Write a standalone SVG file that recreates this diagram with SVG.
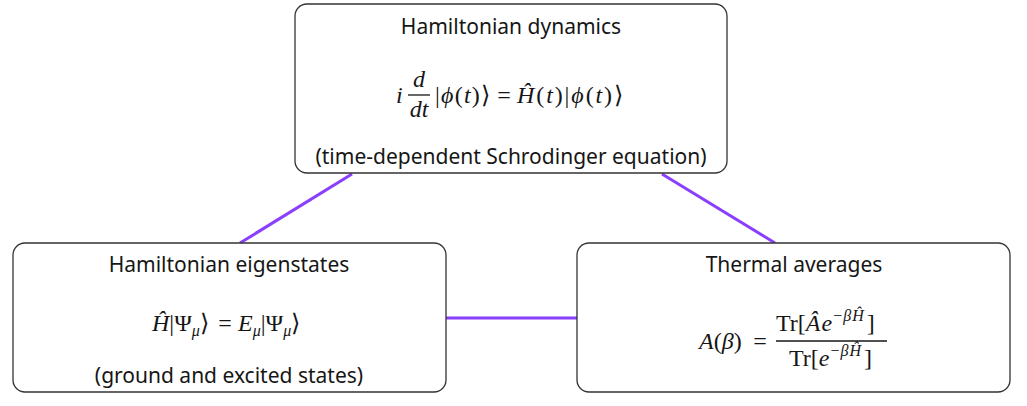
<svg xmlns="http://www.w3.org/2000/svg" width="1027" height="406" viewBox="0 0 1027 406">
<style>
.box{fill:#fff;stroke:#333;stroke-width:1.3}
.t{font-family:"Noto Sans","Open Sans",sans-serif;font-size:21px;fill:#161616;text-anchor:middle}
.m{font-family:"Liberation Serif",serif;font-size:24px;fill:#161616}
.i{font-style:italic}
.bar{stroke:#161616;stroke-width:1.3}
.c{stroke:#8a3ffc;stroke-width:3;fill:none}
</style>
<rect width="1027" height="406" fill="#fff"/>
<g id="connectors">
<line class="c" x1="352" y1="174" x2="240" y2="243"/>
<line class="c" x1="662" y1="174" x2="775" y2="243"/>
<line class="c" x1="446" y1="318" x2="577" y2="318"/>
</g>
<g id="node-dynamics">
<rect class="box" x="295" y="4" width="432" height="169" rx="12"/>
<text class="t" x="511" y="34">Hamiltonian dynamics</text>
<text class="m i" x="396" y="103">i</text>
<text class="m i" x="419" y="87" text-anchor="middle">d</text>
<line class="bar" x1="408" y1="95" x2="430" y2="95"/>
<text class="m i" x="419" y="117" text-anchor="middle">dt</text>
<text class="m" x="435" y="103" textLength="55" lengthAdjust="spacing"><tspan>|</tspan><tspan class="i">ϕ</tspan><tspan>(</tspan><tspan class="i">t</tspan><tspan>)⟩</tspan></text>
<text class="m" x="504" y="103" text-anchor="middle">=</text>
<text class="m" x="517" y="103" textLength="106" lengthAdjust="spacing"><tspan class="i">Ĥ</tspan><tspan>(</tspan><tspan class="i">t</tspan><tspan>)|</tspan><tspan class="i">ϕ</tspan><tspan>(</tspan><tspan class="i">t</tspan><tspan>)⟩</tspan></text>
<text class="t" x="511" y="164">(time-dependent Schrodinger equation)</text>
</g>
<g id="node-eigenstates">
<rect class="box" x="13" y="243" width="433" height="149" rx="12"/>
<text class="t" x="229" y="272">Hamiltonian eigenstates</text>
<text class="m" x="152" y="331"><tspan class="i">Ĥ</tspan><tspan>|Ψ</tspan><tspan class="i" font-size="16" dy="5">μ</tspan><tspan dy="-5">⟩</tspan></text>
<text class="m" x="225" y="331" text-anchor="middle">=</text>
<text class="m" x="238" y="331"><tspan class="i">E</tspan><tspan class="i" font-size="16" dy="5">μ</tspan><tspan dy="-5">|Ψ</tspan><tspan class="i" font-size="16" dy="5">μ</tspan><tspan dy="-5">⟩</tspan></text>
<text class="t" x="229" y="383">(ground and excited states)</text>
</g>
<g id="node-thermal">
<rect class="box" x="577" y="243" width="433" height="149" rx="12"/>
<text class="t" x="794" y="272">Thermal averages</text>
<text class="m" x="699" y="349"><tspan class="i">A</tspan><tspan>(</tspan><tspan class="i">β</tspan><tspan>)</tspan></text>
<text class="m" x="760" y="349" text-anchor="middle">=</text>
<text class="m" x="776" y="331"><tspan>Tr[</tspan><tspan class="i">Â</tspan><tspan class="i" dx="1">e</tspan><tspan font-size="16" dy="-10" dx="1">−</tspan><tspan class="i" font-size="16" dx="1">β</tspan><tspan class="i" font-size="16" dx="1">Ĥ</tspan><tspan dy="10" dx="3">]</tspan></text>
<line class="bar" x1="776" y1="341" x2="887" y2="341"/>
<text class="m" x="789" y="366"><tspan>Tr[</tspan><tspan class="i">e</tspan><tspan font-size="16" dy="-10" dx="1">−</tspan><tspan class="i" font-size="16" dx="1">β</tspan><tspan class="i" font-size="16" dx="1">Ĥ</tspan><tspan dy="10" dx="3">]</tspan></text>
</g>
</svg>
